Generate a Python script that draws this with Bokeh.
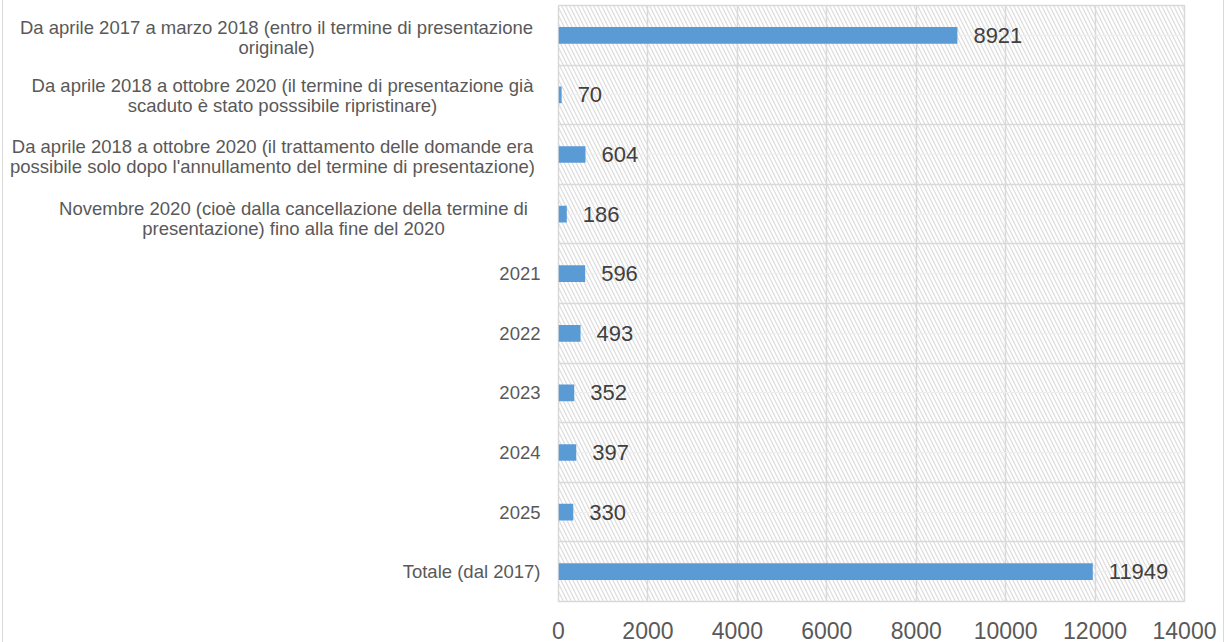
from bokeh.plotting import figure
from bokeh.layouts import row
from bokeh.models import (ColumnDataSource, LabelSet, FixedTicker, Range1d,
                          FactorRange, Grid, BoxAnnotation)
from bokeh.core.properties import value
from bokeh.embed import file_html
from bokeh.resources import INLINE

categories = [
    "Da aprile 2017 a marzo 2018 (entro il termine di presentazione\noriginale)",
    "Da aprile 2018 a ottobre 2020 (il termine di presentazione già\nscaduto è stato posssibile ripristinare)",
    "Da aprile 2018 a ottobre 2020 (il trattamento delle domande era\npossibile solo dopo l'annullamento del termine di presentazione)",
    "Novembre 2020 (cioè dalla cancellazione della termine di\npresentazione) fino alla fine del 2020",
    "2021",
    "2022",
    "2023",
    "2024",
    "2025",
    "Totale (dal 2017)",
]
values = [8921, 70, 604, 186, 596, 493, 352, 397, 330, 11949]
x_ticks = [0, 2000, 4000, 6000, 8000, 10000, 12000, 14000]

FONT = value("Liberation Sans")

# label anchor positions inside the label panel (pixels), line alignment, nudges
label_x = [273, 279, 269, 290, 537, 537, 537, 537, 537, 537]
label_align = ["center"] * 4 + ["right"] * 6
label_dy = [2, 1, 2, 4, 0, 0, 0, 0, 0, 0]

source = ColumnDataSource(dict(cat=categories, val=values, txt=[str(v) for v in values]))
lab_src = ColumnDataSource(dict(cat=categories, lx=label_x, align=label_align, dy=label_dy))

y_range = FactorRange(factors=categories[::-1])

# ---- label panel (left) ----
lf = figure(width=545, height=642, output_backend="svg", toolbar_location=None,
            x_range=Range1d(0, 545), y_range=y_range,
            min_border_left=0, min_border_right=0, min_border_top=5, min_border_bottom=41)
lf.axis.visible = False
lf.grid.visible = False
lf.outline_line_color = None
lf.text(x="lx", y="cat", text="cat", source=lab_src, text_align="align", y_offset="dy",
        text_baseline="middle", text_font=FONT, text_font_size="18.5px",
        text_color="#595959", text_line_height=0.95)

# ---- chart ----
p = figure(width=675, height=642, output_backend="svg", toolbar_location=None,
           y_range=y_range, x_range=Range1d(x_ticks[0], x_ticks[-1]),
           min_border_left=10, min_border_right=39, min_border_top=5, min_border_bottom=41)

p.outline_line_color = "#d9d9d9"
p.outline_line_width = 1.5

p.add_layout(BoxAnnotation(fill_color=None, line_color=None,
                           hatch_pattern="left_diagonal_line", hatch_color="#dedede",
                           hatch_scale=8, hatch_weight=1.3, level="image"))

p.hbar(y="cat", right="val", height=0.28, source=source,
       fill_color="#5B9BD5", line_color=None)

p.add_layout(LabelSet(x="val", y="cat", text="txt", source=source, x_offset=16,
                      text_baseline="middle", text_font=FONT,
                      text_font_size="22px", text_color="#404040"))

p.xgrid.ticker = FixedTicker(ticks=x_ticks)
p.xgrid.grid_line_color = "#d9d9d9"
p.xgrid.grid_line_width = 1.5
p.ygrid.grid_line_color = "#eeeeee"
p.ygrid.grid_line_width = 1.2
p.add_layout(Grid(dimension=1, ticker=FixedTicker(ticks=list(range(len(categories) + 1))),
                  grid_line_color="#d9d9d9", grid_line_width=1.5))

p.xaxis.ticker = FixedTicker(ticks=x_ticks)
p.xaxis.axis_line_color = None
p.xaxis.major_tick_line_color = None
p.xaxis.minor_tick_line_color = None
p.xaxis.major_tick_out = 0
p.xaxis.major_label_standoff = 20
p.xaxis.major_label_text_font = "Liberation Sans"
p.xaxis.major_label_text_font_size = "23px"
p.xaxis.major_label_text_color = "#595959"
p.yaxis.visible = False

layout = row(lf, p)
layout.styles = {"margin-left": "2px", "border-left": "1px solid #d9d9d9",
                 "border-right": "1px solid #d9d9d9"}

open("out.html", "w").write(file_html(layout, INLINE))
